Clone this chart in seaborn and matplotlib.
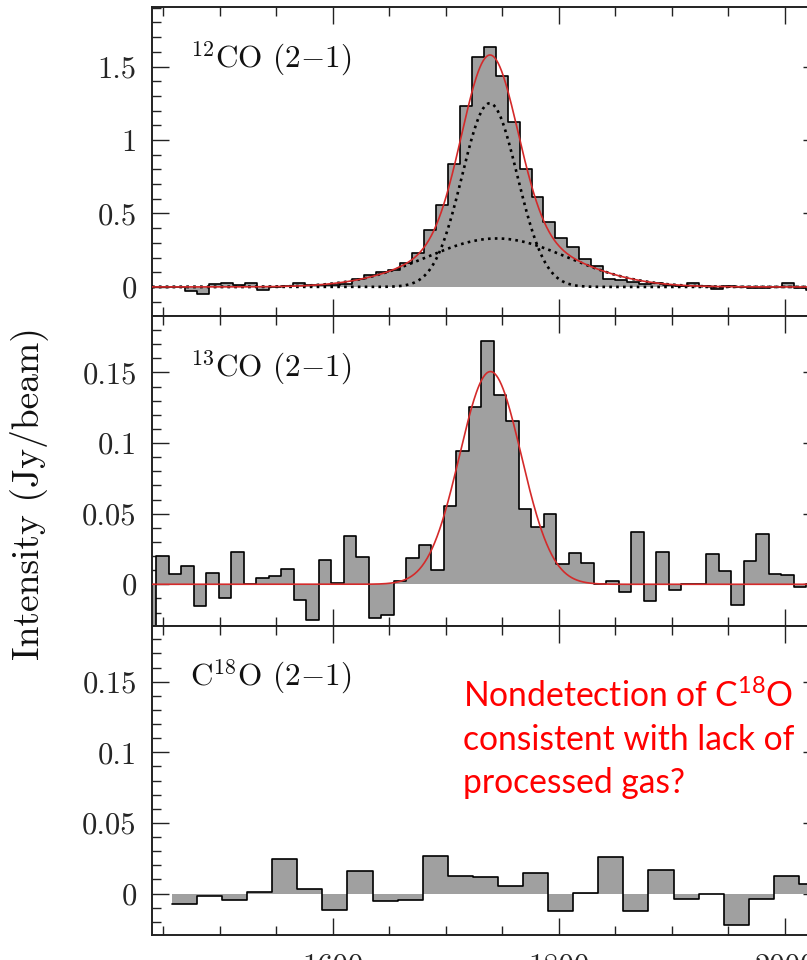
import numpy as np
import pandas as pd
import matplotlib
matplotlib.use("Agg")
import matplotlib.pyplot as plt
import seaborn as sns
from matplotlib.ticker import FixedLocator, MultipleLocator

# ---------------- data ----------------
# 12CO (2-1): channel grid start / width (km/s) and intensities (Jy/beam)
co12_v0, co12_dv = 1437.6, 10.568
co12_vals = [0.0, 0.0, 0.0, -0.027, -0.045, 0.018, 0.03, 0.011, 0.027, -0.018,
             0.0, 0.005, 0.025, 0.01, 0.015, 0.015, 0.018, 0.055, 0.08, 0.10,
             0.115, 0.16, 0.234, 0.386, 0.557, 0.834, 1.232, 1.568, 1.636, 1.436,
             1.125, 0.80, 0.614, 0.443, 0.33, 0.273, 0.193, 0.145, 0.057, 0.05,
             0.034, 0.018, 0.027, 0.011, 0.005, 0.03, 0.005, -0.016, 0.005, 0.003,
             -0.005, -0.01, 0.0, 0.03, -0.01, -0.02]
# two-component Gaussian fit (amplitude, centre, sigma)
co12_fit = [(1.25, 1738.8, 24.4), (0.33, 1745.0, 63.0)]

# 13CO (2-1)
co13_v0, co13_dv = 1432.7, 11.06
co13_vals = [-0.035, 0.0198, 0.0073, 0.0132, -0.0156, 0.0078, -0.0099, 0.0231, 0.0003, 0.0042,
             0.0061, 0.0111, -0.0113, -0.025, 0.017, 0.001, 0.0344, 0.0193, -0.0238, -0.0215,
             0.002, 0.0189, 0.028, 0.0104, 0.0552, 0.0943, 0.1254, 0.1719, 0.1341, 0.1153,
             0.0535, 0.0405, 0.05, 0.0146, 0.0224, 0.0151, 0.0, 0.002, -0.0054, 0.0368,
             -0.012, 0.0229, -0.0038, 0.0005, 0.0, 0.0217, 0.0094, -0.0149, 0.0165, 0.0358,
             0.0071, 0.0066, -0.0019, 0.0]
co13_fit = [(0.1506, 1739.4, 27.3)]

# C18O (2-1)
c18o_v0, c18o_dv = 1457.6, 22.19
c18o_vals = [-0.0071, -0.0014, -0.0047, 0.0012, 0.0248, 0.0035, -0.0118, 0.016, -0.0054, -0.0042,
             0.0269, 0.0127, 0.0116, 0.0054, 0.0149, -0.0125, 0.0007, 0.0259, -0.0125, 0.017,
             -0.0038, 0.0, -0.0219, -0.0035, 0.0123, 0.0071]

panel_labels = [r"$^{12}$CO (2$-$1)", r"$^{13}$CO (2$-$1)", r"C$^{18}$O (2$-$1)"]
ylims = [(-0.2, 1.905), (-0.0293, 0.1897), (-0.0293, 0.1897)]
ytick_vals = [[0, 0.5, 1, 1.5], [0, 0.05, 0.1, 0.15], [0, 0.05, 0.1, 0.15]]
ytick_labels = [["0", "0.5", "1", "1.5"], ["0", "0.05", "0.1", "0.15"], ["0", "0.05", "0.1", "0.15"]]
yminor_step = [0.1, 0.01, 0.01]
xtick_vals = [1600, 1800, 2000]
xtick_labels = ["1600", "1800", "2000"]
xlim = (1440.0, 2031.0)
ylabel = "Intensity (Jy/beam)"
note_lines = [r"Nondetection of C$\mathregular{^{18}}$O", "consistent with lack of", "processed gas?"]

# ---------------- style ----------------
sns.set_theme(style="ticks")
plt.rcParams["font.family"] = ["cmr10", "DejaVu Serif"]
plt.rcParams["mathtext.fontset"] = "cm"
plt.rcParams["axes.unicode_minus"] = False
plt.rcParams["axes.formatter.use_mathtext"] = True

FILL = "#a0a0a0"
FIT = "#d42a2a"

W, H = 807, 960
fig, axes = plt.subplots(3, 1, figsize=(W / 100, H / 100), dpi=100, sharex=True,
                         gridspec_kw=dict(hspace=0, left=152 / W, right=820 / W,
                                          top=1 - 7 / H, bottom=25 / H))


def gauss_sum(v, comps):
    return sum(a * np.exp(-0.5 * ((v - m) / s) ** 2) for a, m, s in comps)


def draw_spectrum(ax, v0, dv, vals):
    vals = np.asarray(vals, dtype=float)
    edges = v0 + dv * np.arange(len(vals) + 1)
    centers = edges[:-1] + dv / 2
    df = pd.DataFrame({"v": centers, "I": vals})
    sns.histplot(data=df, x="v", weights="I", bins=[float(e) for e in edges],
                 element="step", fill=True, color=FILL, alpha=1, linewidth=0,
                 ax=ax, zorder=1)
    step = pd.DataFrame({"v": edges, "I": np.append(vals, vals[-1])})
    sns.lineplot(data=step, x="v", y="I", drawstyle="steps-post", color="black",
                 lw=1.2, ax=ax, zorder=2)


vgrid = np.linspace(xlim[0], xlim[1], 800)

# panel 1
draw_spectrum(axes[0], co12_v0, co12_dv, co12_vals)
for comp in co12_fit:
    sns.lineplot(x=vgrid, y=gauss_sum(vgrid, [comp]), color="black", lw=1.9,
                 linestyle=(0, (1, 1.6)), ax=axes[0], zorder=3)
sns.lineplot(x=vgrid, y=gauss_sum(vgrid, co12_fit), color=FIT, lw=1.2, ax=axes[0], zorder=4)

# panel 2
draw_spectrum(axes[1], co13_v0, co13_dv, co13_vals)
sns.lineplot(x=vgrid, y=gauss_sum(vgrid, co13_fit), color=FIT, lw=1.2, ax=axes[1], zorder=4)

# panel 3
draw_spectrum(axes[2], c18o_v0, c18o_dv, c18o_vals)

for i, ax in enumerate(axes):
    ax.set_xlim(*xlim)
    ax.set_ylim(*ylims[i])
    ax.set_xlabel("")
    ax.set_ylabel("")
    ax.yaxis.set_major_locator(FixedLocator(ytick_vals[i]))
    ax.set_yticklabels(ytick_labels[i])
    ax.yaxis.set_minor_locator(MultipleLocator(yminor_step[i]))
    ax.xaxis.set_major_locator(FixedLocator(xtick_vals))
    ax.xaxis.set_minor_locator(MultipleLocator(50))
    ax.tick_params(which="both", direction="in", top=True, right=True,
                   width=1.0, color="#222222")
    ax.tick_params(which="major", length=12, labelsize=22, pad=11)
    ax.tick_params(which="minor", length=6.3)
    for sp in ax.spines.values():
        sp.set_linewidth(1.4)
        sp.set_color("#222222")
        sp.set_visible(True)
    ax.text(0.057, 0.806, panel_labels[i], transform=ax.transAxes, ha="left",
            va="baseline", fontsize=22.5, color="#111111")

axes[2].set_xticklabels(xtick_labels)
axes[2].tick_params(axis="x", which="major", pad=13)

fig.text(29 / W, 1 - 494 / H, ylabel, rotation=90, ha="center", va="center",
         fontsize=27, color="#111111")

for line, ybase in zip(note_lines, [707.3, 750.0, 793.3]):
    fig.text(463 / W, 1 - ybase / H, line, ha="left", va="baseline", color="#ff0000",
             fontsize=24.2, family=["Lato", "DejaVu Sans"])

fig.savefig("out.png", dpi=100)
